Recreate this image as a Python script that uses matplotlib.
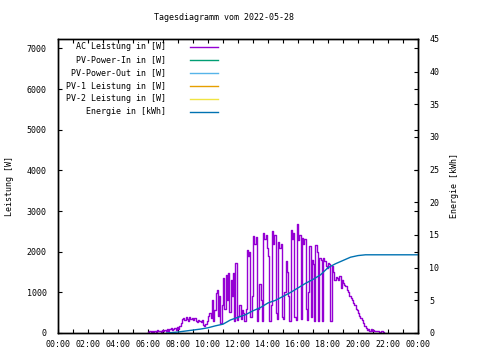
import matplotlib
matplotlib.use("Agg")
import matplotlib.pyplot as plt
import numpy as np
from matplotlib.ticker import MultipleLocator, FuncFormatter

plt.rcParams["font.family"] = ["DejaVu Sans Mono"]
plt.rcParams["font.size"] = 6

# AC power, 5-minute samples starting 06:00 (W)
ac_start_h = 6.0
ac_step_h = 5 / 60
ac_power = [
    20, 45, 30, 60, 25, 50, 35, 70, 40, 55, 30, 65,                    # 06
    45, 80, 50, 110, 60, 90, 120, 70, 100, 130, 85, 140,               # 07
    110, 160, 250, 340, 380, 330, 400, 350, 300, 390, 340, 370,        # 08
    320, 360, 300, 280, 330, 290, 260, 310, 200, 160, 230, 300,        # 09
    420, 500, 380, 820, 300, 560, 980, 1060, 420, 900, 250, 700,       # 10
    1350, 600, 1420, 800, 1470, 520, 1300, 900, 1480, 300, 1720, 330,  # 11
    420, 700, 340, 570, 480, 300, 600, 2050, 1900, 2000, 400, 900,     # 12
    2375, 2200, 2350, 290, 600, 1200, 800, 300, 2450, 2300, 2400, 2100,  # 13
    1900, 290, 700, 2500, 2200, 2400, 500, 350, 2250, 2100, 2200, 400,   # 14
    350, 1000, 1760, 1500, 900, 300, 2540, 2300, 2450, 400, 330, 2690,   # 15
    2290, 2400, 350, 2340, 2200, 2300, 600, 330, 1000, 2130, 400, 1800,  # 16
    1700, 290, 2170, 2000, 300, 1850, 1800, 300, 1850, 1780, 1650, 1600,  # 17
    1720, 1700, 300, 1640, 1500, 1310, 1380, 1350, 1300, 1390, 1100, 1300,  # 18
    1230, 1180, 1150, 1060, 1000, 900, 850, 820, 750, 680, 600, 570,     # 19
    500, 420, 380, 330, 250, 180, 120, 80, 100, 60, 90, 50,              # 20
    70, 40, 60, 45, 55, 35, 50, 40, 30, 0,                               # 21
]

# cumulative energy (kWh)
energy_hours = [7.25, 8.0, 8.5, 9.0, 9.5, 10.0, 10.5, 11.0, 11.5, 12.0, 12.5,
                13.0, 13.5, 14.0, 14.5, 15.0, 15.5, 16.0, 16.5, 17.0, 17.5,
                18.0, 18.5, 19.0, 19.5, 20.0, 20.5, 24.0]
energy_kwh = [0.0, 0.15, 0.3, 0.45, 0.6, 0.8, 1.1, 1.35, 2.0, 2.4, 2.8,
              3.4, 3.9, 4.6, 5.0, 5.6, 6.2, 6.9, 7.6, 8.2, 8.9,
              10.0, 10.6, 11.1, 11.6, 11.85, 11.97, 11.97]

# series without data on this day
pv_in, pv_out, pv1, pv2 = [], [], [], []

labels = ["AC Leistung in [W]", "PV-Power-In in [W]", "PV-Power-Out in [W]",
          "PV-1 Leistung in [W]", "PV-2 Leistung in [W]", "Energie in [kWh]"]
colors = ["#9400d3", "#009e73", "#56b4e9", "#e69f00", "#f0e442", "#0072b2"]

ac_hours = ac_start_h + ac_step_h * np.arange(len(ac_power))

fig = plt.figure(figsize=(4.8, 3.6), dpi=100)
ax = fig.add_axes([58 / 480, 27 / 360, 360 / 480, 294 / 360])
ax2 = ax.twinx()

lines = []
lines += ax.plot(ac_hours, ac_power, color=colors[0], lw=1.0, drawstyle="steps-post")
for data, c in zip([pv_in, pv_out, pv1, pv2], colors[1:5]):
    lines += ax.plot(data, data, color=c, lw=1.0)
lines += ax2.plot(energy_hours, energy_kwh, color=colors[5], lw=1.0)

ax.set_xlim(0, 24)
ax.set_ylim(0, 7230)
ax2.set_ylim(0, 45)

ax.xaxis.set_major_locator(MultipleLocator(2))
ax.xaxis.set_minor_locator(MultipleLocator(1))
ax.xaxis.set_major_formatter(FuncFormatter(lambda x, _p: f"{int(x) % 24:02d}:00"))
ax.yaxis.set_major_locator(MultipleLocator(1000))
ax2.yaxis.set_major_locator(MultipleLocator(5))

ax.tick_params(axis="x", which="both", direction="in", top=True, pad=5)
ax.tick_params(axis="x", which="both", length=3, width=0.8)
ax.tick_params(axis="y", direction="in", right=True, length=3, width=0.8, pad=8)
ax2.tick_params(axis="y", direction="in", length=3, width=0.8, pad=8)
for a in (ax, ax2):
    for s in a.spines.values():
        s.set_linewidth(1.0)

ax.set_ylabel("Leistung [W]")
ax.yaxis.set_label_coords(-44 / 360, 0.5)
ax2.set_ylabel("Energie [kWh]")
ax2.yaxis.set_label_coords(1 + 32 / 360, 0.5)

fig.text(224 / 480, 1 - 18 / 360, "Tagesdiagramm vom 2022-05-28",
         ha="center", va="center")

# key, gnuplot style: right-aligned text followed by a line sample
row_y = [0.973, 0.929, 0.884, 0.840, 0.796, 0.752]
for lbl, ln, y in zip(labels, lines, row_y):
    ax.text(0.30, y, lbl, transform=ax.transAxes, ha="right", va="center")
    ax.plot([0.367, 0.444], [y, y], transform=ax.transAxes,
            color=ln.get_color(), lw=1.0, clip_on=False)

fig.savefig("out.png", dpi=100)
